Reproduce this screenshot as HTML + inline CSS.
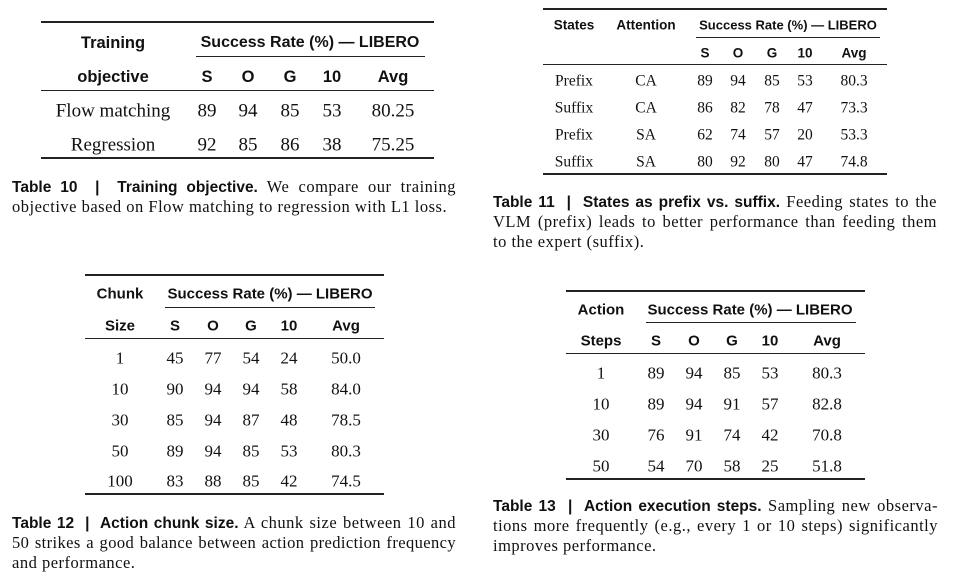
<!DOCTYPE html>
<html><head><meta charset="utf-8"><style>
body{margin:0;width:953px;height:580px;background:#fff;position:relative;overflow:hidden;color:#111}
.c{position:absolute;transform:translate(-50%,-50%);white-space:nowrap;line-height:1}
.h{font-family:"Liberation Sans",sans-serif;font-weight:bold}
.s{font-family:"Liberation Serif",serif}
.r{position:absolute;background:#222}
.cap{position:absolute;font-family:"Liberation Serif",serif;white-space:nowrap;line-height:20px;text-align:justify;text-align-last:justify;font-size:16.5px;letter-spacing:0.5px}
.cap.l{text-align-last:left}
.cap b{font-family:"Liberation Sans",sans-serif;font-weight:bold;font-size:15.5px;letter-spacing:0}
</style></head><body>

<!-- Table 10 -->
<div class="r" style="left:41px;top:21px;width:393px;height:2px"></div>
<div class="c h" style="left:113px;top:43px;font-size:16.5px">Training</div>
<div class="c h" style="left:310px;top:43px;font-size:16px">Success Rate (%) — LIBERO</div>
<div class="r" style="left:196px;top:56px;width:229px;height:1px"></div>
<div class="c h" style="left:113px;top:77px;font-size:16.5px">objective</div>
<div class="c h" style="left:207px;top:77px;font-size:16.5px">S</div>
<div class="c h" style="left:248px;top:77px;font-size:16.5px">O</div>
<div class="c h" style="left:290px;top:77px;font-size:16.5px">G</div>
<div class="c h" style="left:332px;top:77px;font-size:16.5px">10</div>
<div class="c h" style="left:393px;top:77px;font-size:16.5px">Avg</div>
<div class="r" style="left:41px;top:90px;width:393px;height:1px"></div>
<div class="c s" style="left:113px;top:111px;font-size:19px">Flow matching</div>
<div class="c s" style="left:207px;top:111px;font-size:19px">89</div>
<div class="c s" style="left:248px;top:111px;font-size:19px">94</div>
<div class="c s" style="left:290px;top:111px;font-size:19px">85</div>
<div class="c s" style="left:332px;top:111px;font-size:19px">53</div>
<div class="c s" style="left:393px;top:111px;font-size:19px">80.25</div>
<div class="c s" style="left:113px;top:145px;font-size:19px">Regression</div>
<div class="c s" style="left:207px;top:145px;font-size:19px">92</div>
<div class="c s" style="left:248px;top:145px;font-size:19px">85</div>
<div class="c s" style="left:290px;top:145px;font-size:19px">86</div>
<div class="c s" style="left:332px;top:145px;font-size:19px">38</div>
<div class="c s" style="left:393px;top:145px;font-size:19px">75.25</div>
<div class="r" style="left:41px;top:157px;width:393px;height:2px"></div>
<div class="cap" style="left:12px;top:177px;width:444px"><b>Table 10 &nbsp;|&nbsp; Training objective.</b> We compare our training</div>
<div class="cap l" style="left:12px;top:197px;width:444px">objective based on Flow matching to regression with L1 loss.</div>

<!-- Table 11 -->
<div class="r" style="left:543px;top:8px;width:344px;height:2px"></div>
<div class="c h" style="left:574px;top:25px;font-size:13.5px">States</div>
<div class="c h" style="left:646px;top:25px;font-size:13.5px">Attention</div>
<div class="c h" style="left:788px;top:25px;font-size:13px">Success Rate (%) — LIBERO</div>
<div class="r" style="left:696px;top:37px;width:184px;height:1px"></div>
<div class="c h" style="left:705px;top:53px;font-size:13.5px">S</div>
<div class="c h" style="left:738px;top:53px;font-size:13.5px">O</div>
<div class="c h" style="left:772px;top:53px;font-size:13.5px">G</div>
<div class="c h" style="left:805px;top:53px;font-size:13.5px">10</div>
<div class="c h" style="left:854px;top:53px;font-size:13.5px">Avg</div>
<div class="r" style="left:543px;top:64px;width:344px;height:1px"></div>
<div class="c s" style="left:574px;top:81px;font-size:15.5px">Prefix</div><div class="c s" style="left:646px;top:81px;font-size:15.5px">CA</div><div class="c s" style="left:705px;top:81px;font-size:15.5px">89</div><div class="c s" style="left:738px;top:81px;font-size:15.5px">94</div><div class="c s" style="left:772px;top:81px;font-size:15.5px">85</div><div class="c s" style="left:805px;top:81px;font-size:15.5px">53</div><div class="c s" style="left:854px;top:81px;font-size:15.5px">80.3</div>
<div class="c s" style="left:574px;top:108px;font-size:15.5px">Suffix</div><div class="c s" style="left:646px;top:108px;font-size:15.5px">CA</div><div class="c s" style="left:705px;top:108px;font-size:15.5px">86</div><div class="c s" style="left:738px;top:108px;font-size:15.5px">82</div><div class="c s" style="left:772px;top:108px;font-size:15.5px">78</div><div class="c s" style="left:805px;top:108px;font-size:15.5px">47</div><div class="c s" style="left:854px;top:108px;font-size:15.5px">73.3</div>
<div class="c s" style="left:574px;top:135px;font-size:15.5px">Prefix</div><div class="c s" style="left:646px;top:135px;font-size:15.5px">SA</div><div class="c s" style="left:705px;top:135px;font-size:15.5px">62</div><div class="c s" style="left:738px;top:135px;font-size:15.5px">74</div><div class="c s" style="left:772px;top:135px;font-size:15.5px">57</div><div class="c s" style="left:805px;top:135px;font-size:15.5px">20</div><div class="c s" style="left:854px;top:135px;font-size:15.5px">53.3</div>
<div class="c s" style="left:574px;top:162px;font-size:15.5px">Suffix</div><div class="c s" style="left:646px;top:162px;font-size:15.5px">SA</div><div class="c s" style="left:705px;top:162px;font-size:15.5px">80</div><div class="c s" style="left:738px;top:162px;font-size:15.5px">92</div><div class="c s" style="left:772px;top:162px;font-size:15.5px">80</div><div class="c s" style="left:805px;top:162px;font-size:15.5px">47</div><div class="c s" style="left:854px;top:162px;font-size:15.5px">74.8</div>
<div class="r" style="left:543px;top:173px;width:344px;height:2px"></div>
<div class="cap" style="left:493px;top:192px;width:444px"><b>Table 11 &nbsp;|&nbsp; States as prefix vs. suffix.</b> Feeding states to the</div>
<div class="cap" style="left:493px;top:212px;width:444px">VLM (prefix) leads to better performance than feeding them</div>
<div class="cap l" style="left:493px;top:232px;width:444px">to the expert (suffix).</div>

<!-- Table 12 -->
<div class="r" style="left:85px;top:274px;width:299px;height:2px"></div>
<div class="c h" style="left:120px;top:294px;font-size:15px">Chunk</div>
<div class="c h" style="left:270px;top:294px;font-size:15px">Success Rate (%) — LIBERO</div>
<div class="r" style="left:165px;top:307px;width:210px;height:1px"></div>
<div class="c h" style="left:120px;top:326px;font-size:15px">Size</div>
<div class="c h" style="left:175px;top:326px;font-size:15px">S</div>
<div class="c h" style="left:213px;top:326px;font-size:15px">O</div>
<div class="c h" style="left:251px;top:326px;font-size:15px">G</div>
<div class="c h" style="left:289px;top:326px;font-size:15px">10</div>
<div class="c h" style="left:346px;top:326px;font-size:15px">Avg</div>
<div class="r" style="left:85px;top:338px;width:299px;height:1px"></div>
<div class="c s" style="left:120px;top:358px;font-size:17px">1</div><div class="c s" style="left:175px;top:358px;font-size:17px">45</div><div class="c s" style="left:213px;top:358px;font-size:17px">77</div><div class="c s" style="left:251px;top:358px;font-size:17px">54</div><div class="c s" style="left:289px;top:358px;font-size:17px">24</div><div class="c s" style="left:346px;top:358px;font-size:17px">50.0</div>
<div class="c s" style="left:120px;top:389px;font-size:17px">10</div><div class="c s" style="left:175px;top:389px;font-size:17px">90</div><div class="c s" style="left:213px;top:389px;font-size:17px">94</div><div class="c s" style="left:251px;top:389px;font-size:17px">94</div><div class="c s" style="left:289px;top:389px;font-size:17px">58</div><div class="c s" style="left:346px;top:389px;font-size:17px">84.0</div>
<div class="c s" style="left:120px;top:420px;font-size:17px">30</div><div class="c s" style="left:175px;top:420px;font-size:17px">85</div><div class="c s" style="left:213px;top:420px;font-size:17px">94</div><div class="c s" style="left:251px;top:420px;font-size:17px">87</div><div class="c s" style="left:289px;top:420px;font-size:17px">48</div><div class="c s" style="left:346px;top:420px;font-size:17px">78.5</div>
<div class="c s" style="left:120px;top:451px;font-size:17px">50</div><div class="c s" style="left:175px;top:451px;font-size:17px">89</div><div class="c s" style="left:213px;top:451px;font-size:17px">94</div><div class="c s" style="left:251px;top:451px;font-size:17px">85</div><div class="c s" style="left:289px;top:451px;font-size:17px">53</div><div class="c s" style="left:346px;top:451px;font-size:17px">80.3</div>
<div class="c s" style="left:120px;top:481px;font-size:17px">100</div><div class="c s" style="left:175px;top:481px;font-size:17px">83</div><div class="c s" style="left:213px;top:481px;font-size:17px">88</div><div class="c s" style="left:251px;top:481px;font-size:17px">85</div><div class="c s" style="left:289px;top:481px;font-size:17px">42</div><div class="c s" style="left:346px;top:481px;font-size:17px">74.5</div>
<div class="r" style="left:85px;top:493px;width:299px;height:2px"></div>
<div class="cap" style="left:12px;top:513px;width:444px"><b>Table 12 &nbsp;|&nbsp; Action chunk size.</b> A chunk size between 10 and</div>
<div class="cap" style="left:12px;top:533px;width:444px;letter-spacing:0.4px">50 strikes a good balance between action prediction frequency</div>
<div class="cap l" style="left:12px;top:553px;width:444px">and performance.</div>

<!-- Table 13 -->
<div class="r" style="left:566px;top:290px;width:299px;height:2px"></div>
<div class="c h" style="left:601px;top:310px;font-size:15px">Action</div>
<div class="c h" style="left:750px;top:310px;font-size:15px">Success Rate (%) — LIBERO</div>
<div class="r" style="left:646px;top:322px;width:210px;height:1px"></div>
<div class="c h" style="left:601px;top:341px;font-size:15px">Steps</div>
<div class="c h" style="left:656px;top:341px;font-size:15px">S</div>
<div class="c h" style="left:694px;top:341px;font-size:15px">O</div>
<div class="c h" style="left:732px;top:341px;font-size:15px">G</div>
<div class="c h" style="left:770px;top:341px;font-size:15px">10</div>
<div class="c h" style="left:827px;top:341px;font-size:15px">Avg</div>
<div class="r" style="left:566px;top:353px;width:299px;height:1px"></div>
<div class="c s" style="left:601px;top:373px;font-size:17px">1</div><div class="c s" style="left:656px;top:373px;font-size:17px">89</div><div class="c s" style="left:694px;top:373px;font-size:17px">94</div><div class="c s" style="left:732px;top:373px;font-size:17px">85</div><div class="c s" style="left:770px;top:373px;font-size:17px">53</div><div class="c s" style="left:827px;top:373px;font-size:17px">80.3</div>
<div class="c s" style="left:601px;top:404px;font-size:17px">10</div><div class="c s" style="left:656px;top:404px;font-size:17px">89</div><div class="c s" style="left:694px;top:404px;font-size:17px">94</div><div class="c s" style="left:732px;top:404px;font-size:17px">91</div><div class="c s" style="left:770px;top:404px;font-size:17px">57</div><div class="c s" style="left:827px;top:404px;font-size:17px">82.8</div>
<div class="c s" style="left:601px;top:435px;font-size:17px">30</div><div class="c s" style="left:656px;top:435px;font-size:17px">76</div><div class="c s" style="left:694px;top:435px;font-size:17px">91</div><div class="c s" style="left:732px;top:435px;font-size:17px">74</div><div class="c s" style="left:770px;top:435px;font-size:17px">42</div><div class="c s" style="left:827px;top:435px;font-size:17px">70.8</div>
<div class="c s" style="left:601px;top:466px;font-size:17px">50</div><div class="c s" style="left:656px;top:466px;font-size:17px">54</div><div class="c s" style="left:694px;top:466px;font-size:17px">70</div><div class="c s" style="left:732px;top:466px;font-size:17px">58</div><div class="c s" style="left:770px;top:466px;font-size:17px">25</div><div class="c s" style="left:827px;top:466px;font-size:17px">51.8</div>
<div class="r" style="left:566px;top:478px;width:299px;height:2px"></div>
<div class="cap" style="left:493px;top:496px;width:445px"><b>Table 13 &nbsp;|&nbsp; Action execution steps.</b> Sampling new observa-</div>
<div class="cap" style="left:493px;top:516px;width:445px">tions more frequently (e.g., every 1 or 10 steps) significantly</div>
<div class="cap l" style="left:493px;top:536px;width:445px">improves performance.</div>

</body></html>
